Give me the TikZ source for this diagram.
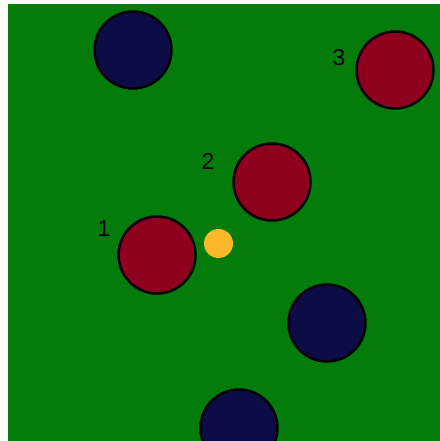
\documentclass[tikz,border=0pt]{standalone}
\usepackage{fontspec}
\setmainfont{Liberation Sans}
\definecolor{bg}{RGB}{3,124,12}
\definecolor{navy}{RGB}{12,12,70}
\definecolor{crim}{RGB}{143,0,30}
\definecolor{gold}{RGB}{251,184,41}
\tikzset{
  ball/.style={circle, draw=black, line width=2.5bp, minimum size=77bp, inner sep=0pt},
  navyball/.style={ball, fill=navy},
  redball/.style={ball, fill=crim},
  lbl/.style={font=\fontsize{23bp}{23bp}\selectfont, inner sep=0pt}
}
\begin{document}
\begin{tikzpicture}[x=1bp,y=-1bp]
\useasboundingbox (0,0) rectangle (440,441);
\fill[white] (0,0) rectangle (440,441);
\fill[bg] (8,4) rectangle (440,441);
\begin{scope}
\clip (8,4) rectangle (440,441);
\node[navyball] (n1) at (133,50) {};
\node[redball] (r3) at (395,70) {};
\node[redball] (r2) at (272,182) {};
\node[redball] (r1) at (157,255) {};
\node[navyball] (n2) at (327,323) {};
\node[navyball] (n3) at (239,428) {};
\node[circle, fill=gold, minimum size=29bp, inner sep=0pt] (y) at (218.5,243.5) {};
\end{scope}
\node[lbl] (l1) at (104,229) {1};
\node[lbl] (l2) at (208,161) {2};
\node[lbl] (l3) at (339,58) {3};
\end{tikzpicture}
\end{document}
